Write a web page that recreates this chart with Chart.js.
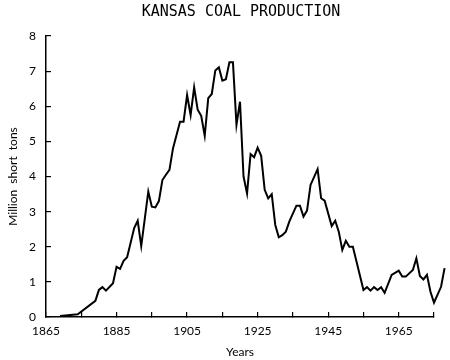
<!DOCTYPE html>
<html lang="en">
  <head>
    <meta charset="UTF-8" />
    <title>Kansas Coal Production</title>
    <script src="https://cdn.jsdelivr.net/npm/chart.js"></script>
    <style>
      body { margin: 0; background: #fff; }
    </style>
  </head>
  <body>
    <canvas id="coalChart" width="450" height="360"></canvas>

    <script>
      // values, million short tons per year
      const years = [
        1869, 1874, 1879, 1880, 1881, 1882, 1884, 1885, 1886, 1887, 1888,
        1890, 1891, 1892, 1894, 1895, 1896, 1897, 1898, 1899, 1900, 1901,
        1903, 1904, 1905, 1906, 1907, 1908, 1909, 1910, 1911, 1912, 1913,
        1914, 1915, 1916, 1917, 1918, 1919, 1920, 1921, 1922, 1923, 1924,
        1925, 1926, 1927, 1928, 1929, 1930, 1931, 1932, 1933, 1934, 1936,
        1937, 1938, 1939, 1940, 1942, 1943, 1944, 1946, 1947, 1948, 1949,
        1950, 1951, 1952, 1955, 1956, 1957, 1958, 1959, 1960, 1961, 1963,
        1965, 1966, 1967, 1969, 1970, 1971, 1972, 1973, 1974, 1975, 1977,
        1978,
      ];
      const tons = [
        0.03, 0.08, 0.46, 0.77, 0.85, 0.75, 0.96, 1.43, 1.37, 1.6, 1.7,
        2.53, 2.74, 2.02, 3.57, 3.14, 3.12, 3.3, 3.9, 4.05, 4.19, 4.8,
        5.56, 5.56, 6.32, 5.75, 6.54, 5.9, 5.73, 5.16, 6.23, 6.35, 7.02,
        7.11, 6.73, 6.77, 7.25, 7.25, 5.47, 6.13, 4.0, 3.52, 4.64, 4.55,
        4.82, 4.59, 3.62, 3.38, 3.5, 2.62, 2.27, 2.33, 2.43, 2.72, 3.17,
        3.17, 2.86, 3.03, 3.76, 4.21, 3.38, 3.31, 2.59, 2.74, 2.43, 1.91,
        2.17, 2.0, 2.0, 0.77, 0.85, 0.75, 0.85, 0.77, 0.85, 0.69, 1.2,
        1.32, 1.15, 1.15, 1.34, 1.67, 1.17, 1.07, 1.2, 0.72, 0.41, 0.86,
        1.39,
      ];
      // tick marks every ten years, labels every twenty
      const tickYears = [1865, 1875, 1885, 1895, 1905, 1915, 1925, 1935, 1945, 1955, 1965, 1975];
      const labeledYears = [1865, 1885, 1905, 1925, 1945, 1965];
      const axisStart = 1865;
      const axisEnd = 1975; // the line runs on past the end of the axis

      const points = years.map((yr, i) => ({ x: yr, y: tons[i] }));

      // main title, centred over the plot area rather than the canvas
      const titlePlugin = {
        id: "plotTitle",
        afterDraw(chart) {
          const ctx = chart.ctx;
          const area = chart.chartArea;
          ctx.save();
          ctx.fillStyle = "#000";
          ctx.font = "15px 'DejaVu Sans Mono'";
          ctx.textAlign = "center";
          ctx.textBaseline = "alphabetic";
          ctx.fillText("KANSAS COAL PRODUCTION", (area.left + area.right) / 2 + 1, 16);
          ctx.restore();
        },
      };

      const tickFont = { family: "Lato", size: 12 };

      new Chart(document.getElementById("coalChart"), {
        type: "line",
        data: {
          datasets: [
            {
              data: points,
              borderColor: "#000",
              borderWidth: 2,
              pointRadius: 0,
              tension: 0,
              clip: false,
            },
          ],
        },
        options: {
          responsive: false,
          animation: false,
          layout: { padding: { top: 36, right: 16, left: 0, bottom: 0 } },
          plugins: {
            legend: { display: false },
            tooltip: { enabled: false },
          },
          scales: {
            x: {
              type: "linear",
              bounds: "data",
              // limits set here (not min/max) so points past the axis end still get drawn
              afterDataLimits: (scale) => {
                scale.min = axisStart;
                scale.max = axisEnd;
              },
              afterBuildTicks: (scale) => {
                scale.ticks = tickYears.map((v) => ({ value: v }));
              },
              afterFit: (scale) => {
                scale.height = 43;
              },
              border: { color: "#000", width: 1.5 },
              grid: { drawOnChartArea: false, tickLength: -5, color: "#000", lineWidth: 1.2 },
              ticks: {
                autoSkip: false,
                maxRotation: 0,
                padding: 12,
                color: "#000",
                font: tickFont,
                callback: (v) => (labeledYears.includes(v) ? String(v) : ""),
              },
              title: {
                display: true,
                text: "Years",
                color: "#000",
                font: tickFont,
                padding: { top: 0, bottom: 1 },
              },
            },
            y: {
              min: 0,
              max: 8,
              afterFit: (scale) => {
                scale.width = 46;
              },
              border: { color: "#000", width: 1.5 },
              grid: { drawOnChartArea: false, tickLength: -5, color: "#000", lineWidth: 1.2 },
              ticks: {
                stepSize: 1,
                padding: 15,
                color: "#000",
                font: tickFont,
              },
              title: {
                display: true,
                text: "Million  short  tons",
                color: "#000",
                font: tickFont,
                padding: { top: 6, bottom: 0 },
              },
            },
          },
        },
        plugins: [titlePlugin],
      });
    </script>
  </body>
</html>
